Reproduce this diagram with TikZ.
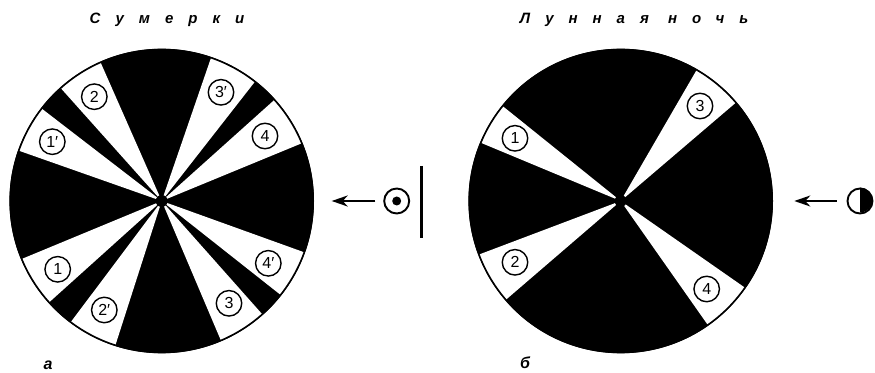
\documentclass[tikz,border=0pt]{standalone}
\usepackage{fontspec}
\setmainfont{Liberation Sans}
\usetikzlibrary{arrows.meta,calc}

\begin{document}
\begin{tikzpicture}[x=1pt, y=1pt,
    disc/.style={circle, draw=black, line width=1.4pt, fill=black, inner sep=0pt,
        minimum size=303pt},
    rim/.style={circle, draw=black, line width=1.6pt, inner sep=0pt,
        minimum size=303pt},
    num/.style={circle, draw=black, line width=1.4pt, fill=white, inner sep=0pt,
        minimum size=25.5pt, font=\fontsize{16}{16}\selectfont},
    lamp/.style={circle, draw=black, line width=1.9pt, fill=white, inner sep=0pt,
        minimum size=25pt},
    title/.style={font=\fontsize{15}{15}\selectfont\bfseries\itshape\addfontfeature{LetterSpace=100}},
    tag/.style={font=\fontsize{16}{16}\selectfont\bfseries\itshape},
    arr/.style={-{Stealth[length=16pt, width=11pt, inset=5pt]}, line width=2pt, black},
    bar/.style={line width=2.4pt, black}
]
    \useasboundingbox (0,0) rectangle (875,372);

    % Titles
    \node[title] (titleA) at (167,352) {Сумерки};
    \node[title] (titleB) at (634,352) {Лунная ночь};

    % Left disc
    \node[disc] (discA) at (161.7,171) {};
    \foreach \from/\to in {113.8/131.8, 142.4/160.6, 52/71, 22.4/41.9,
        -38.3/-19.8, -67/-48.4, 233.1/252.2, 202.5/222} {
        \fill[white] (discA.center) -- ++(\from:151.5) arc[start angle=\from, end angle=\to, radius=151.5] -- cycle;
    }
    \node[rim] at (discA) {};
    \fill (discA.center) circle[radius=6];

    % Right disc
    \node[disc] (discB) at (620.7,171) {};
    \foreach \from/\to in {141.2/157.4, 200.7/220.7, 40.5/59.9, -54.9/-34.9} {
        \fill[white] (discB.center) -- ++(\from:151.5) arc[start angle=\from, end angle=\to, radius=151.5] -- cycle;
    }
    \node[rim] at (discB) {};
    \fill (discB.center) circle[radius=6];

    % Numbers on the left disc
    \node[num] (a2) at (94.3,275.3) {2};
    \node[num] (a1p) at (52.3,230.3) {1′};
    \node[num] (a3p) at (221,279.7) {3′};
    \node[num] (a4) at (265,236) {4};
    \node[num] (a4p) at (268.3,108.7) {4′};
    \node[num] (a3) at (229,68.7) {3};
    \node[num] (a2p) at (104.3,62) {2′};
    \node[num] (a1) at (57.7,102.7) {1};

    % Numbers on the right disc
    \node[num] (b1) at (515,233.7) {1};
    \node[num] (b2) at (515,109.7) {2};
    \node[num] (b3) at (700,266) {3};
    \node[num] (b4) at (706.7,83) {4};

    % Sun and screen
    \node[lamp] (sun) at (396.7,171) {};
    \fill (sun.center) circle[radius=4.5];
    \coordinate (sunTip) at (331.7,171);
    \draw[arr, shorten <=8pt] (sun.west) -- (sunTip);
    \coordinate (screenTop) at (421.3,206);
    \coordinate (screenEnd) at (421.3,134);
    \draw[bar] (screenTop) -- (screenEnd);

    % Half moon
    \node[lamp] (moon) at (860,171) {};
    \fill (moon.north) arc[start angle=90, end angle=-90, radius=12.5] -- cycle;
    \coordinate (moonTip) at (794.3,171);
    \draw[arr, shorten <=10pt] (moon.west) -- (moonTip);

    % Part letters
    \node[tag] (tagA) at (48,7) {а};
    \node[tag] (tagB) at (525,9) {б};
\end{tikzpicture}
\end{document}
